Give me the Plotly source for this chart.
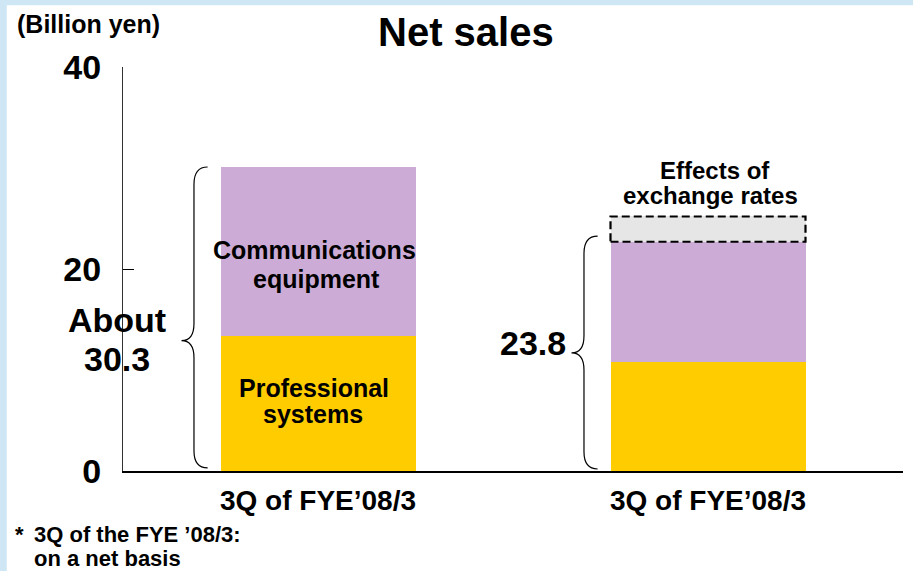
import plotly.graph_objects as go

# Data (billion yen)
periods = ["3Q of FYE\u201908/3", "3Q of FYE\u201908/3"]
professional = [13.4, 10.8]
communications = [16.7, 11.9]
exchange_effect = [2.5]
total_labels = ["About<br>30.3", "23.8"]
y_ticks = [0, 20, 40]

FONT = "Liberation Sans, Arial, sans-serif"
BAR_W = 0.5
x_pos = [0, 1]

fig = go.Figure()
fig.add_trace(go.Bar(x=x_pos, y=professional, width=[BAR_W] * 2,
                     marker=dict(color="#FFCC00", line_width=0), name="Professional systems"))
fig.add_trace(go.Bar(x=x_pos, y=communications, width=[BAR_W] * 2,
                     marker=dict(color="#CCACD6", line_width=0), name="Communications equipment"))
fig.add_trace(go.Bar(x=[1], y=exchange_effect, width=[BAR_W],
                     marker=dict(color="#E6E6E6", line_width=0), name="Effects of exchange rates"))


def brace(x_left, y_top, y_bot, y_tip, r=1.7):
    # curly brace drawn to the left of a bar
    xe, xs, xt = x_left - 0.033, x_left - 0.068, x_left - 0.10
    return (f"M {xe},{y_top} Q {xs},{y_top} {xs},{y_top - r} L {xs},{y_tip + r} "
            f"Q {xs},{y_tip} {xt},{y_tip} Q {xs},{y_tip} {xs},{y_tip - r} "
            f"L {xs},{y_bot + r} Q {xs},{y_bot} {xe},{y_bot}")


top1 = professional[0] + communications[0]
top2 = professional[1] + communications[1]
shapes = [
    # white page over the light blue frame
    dict(type="rect", xref="paper", yref="paper", x0=-0.149, x1=1.02, y0=-0.3, y1=1.153,
         fillcolor="white", line_width=0, layer="below"),
    dict(type="path", xref="x", yref="y", path=brace(-BAR_W / 2, top1, 0.3, 12.9),
         line=dict(color="black", width=1.2)),
    dict(type="path", xref="x", yref="y", path=brace(1 - BAR_W / 2, top2 + 0.55, 0.2, 11.7),
         line=dict(color="black", width=1.2)),
    # dashed outline for the exchange-rate portion
    dict(type="rect", xref="x", yref="y", x0=1 - BAR_W / 2, x1=1 + BAR_W / 2,
         y0=top2, y1=top2 + exchange_effect[0],
         line=dict(color="black", width=2.2, dash="8px,4px")),
]

bold = dict(family=FONT, color="black", weight="bold")


def note(text, x, y, size, xref="x", yref="y", xanchor="center"):
    return dict(text=text, x=x, y=y, xref=xref, yref=yref, xanchor=xanchor, yanchor="middle",
                showarrow=False, font=dict(size=size, **bold))


about_lines = total_labels[0].split("<br>")
annotations = [
    note("Net sales", 0.4397, 1.0866, 40, "paper", "paper"),
    note("(Billion yen)", -0.1385, 1.1064, 25, "paper", "paper", "left"),
    note("Communications", -0.008, 21.88, 25),
    note("equipment", -0.005, 19.0, 25),
    note("Professional", -0.010, 8.17, 25),
    note("systems", -0.013, 5.64, 25),
    note("Effects of", 1.017, 29.8, 24),
    note("exchange rates", 1.006, 27.25, 24),
    note(about_lines[0], -0.0077, 0.3738, 34, "paper", "paper"),
    note(about_lines[1], -0.0077, 0.276, 34, "paper", "paper"),
    note(total_labels[1], 0.550, 12.72, 34),
    note("*", -0.141, -0.1584, 22, "paper", "paper", "left"),
    note("3Q of the FYE \u201908/3:", -0.1167, -0.1584, 22, "paper", "paper", "left"),
    note("on a net basis", -0.1167, -0.216, 22, "paper", "paper", "left"),
]

fig.update_layout(
    barmode="stack",
    width=913, height=571,
    margin=dict(l=123, r=10, t=67, b=100),
    paper_bgcolor="#CFE7F5",
    plot_bgcolor="white",
    showlegend=False,
    shapes=shapes,
    annotations=annotations,
    font=dict(family=FONT, color="black"),
)
fig.update_xaxes(range=[-0.5, 1.5], tickvals=x_pos, ticktext=periods,
                 tickfont=dict(size=28, **bold), ticks="", showgrid=False, zeroline=False,
                 showline=True, linecolor="black", linewidth=1.5, ticklabelstandoff=4)
fig.update_yaxes(range=[0, 40], tickvals=y_ticks, tickfont=dict(size=34, **bold),
                 ticks="inside", ticklen=11, tickwidth=1, tickcolor="black",
                 showgrid=False, zeroline=False, showline=True, linecolor="#333333",
                 linewidth=1, ticklabelstandoff=14)

# drop the page's default body margin so the figure starts at the window corner
fig.write_html("out.html", config={"displayModeBar": False},
               post_script="document.body.style.margin = '0';")
